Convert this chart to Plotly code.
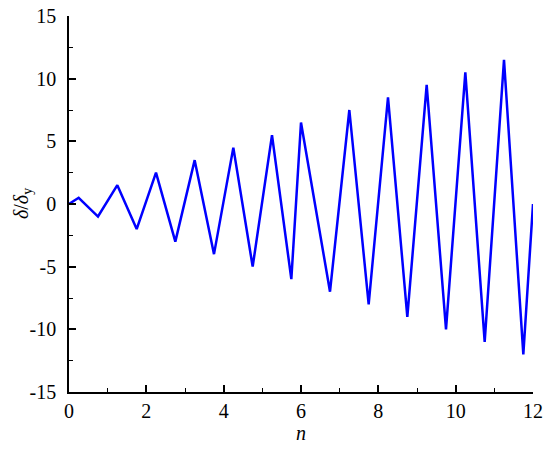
import plotly.graph_objects as go

# loading protocol: cycle index n vs normalised displacement
n_vals = [0, 0.25, 0.75, 1.25, 1.75, 2.25, 2.75, 3.25, 3.75, 4.25, 4.75,
          5.25, 5.75, 6.0, 6.75, 7.25, 7.75, 8.25, 8.75, 9.25, 9.75,
          10.25, 10.75, 11.25, 11.75, 12]
disp_ratio = [0, 0.5, -1, 1.5, -2, 2.5, -3, 3.5, -4, 4.5, -5,
              5.5, -6, 6.5, -7, 7.5, -8, 8.5, -9, 9.5, -10,
              10.5, -11, 11.5, -12, 0]

x_ticks = [0, 2, 4, 6, 8, 10, 12]
y_ticks = [-15, -10, -5, 0, 5, 10, 15]
y_labels = ["-15", "-10", "-5", "0", "5", "10", "15"]

FONT = "Liberation Serif"

fig = go.Figure()
fig.add_trace(go.Scatter(
    x=n_vals, y=disp_ratio, mode="lines",
    line=dict(color="#0000FF", width=2.5),
    showlegend=False, cliponaxis=False
))

axis_common = dict(
    showline=True, linecolor="black", linewidth=1.5, mirror=False,
    showgrid=False, zeroline=False, automargin=False,
    ticks="inside", ticklen=7, tickwidth=1.5, tickcolor="black",
    tickfont=dict(family=FONT, size=20, color="black"),
    ticklabeloverflow="allow",
)

fig.update_xaxes(
    range=[0, 12], tickvals=x_ticks, ticklabelstandoff=0,
    minor=dict(dtick=1, ticks="inside", ticklen=4, tickwidth=1.2, tickcolor="black"),
    title=dict(text="<i>n</i>", font=dict(family=FONT, size=20, color="black"), standoff=0),
    **axis_common
)
fig.update_yaxes(
    range=[-15, 15], tickvals=y_ticks, ticktext=y_labels, ticklabelstandoff=7,
    minor=dict(dtick=2.5, ticks="inside", ticklen=4, tickwidth=1.2, tickcolor="black"),
    **axis_common
)

# y title placed by hand so it sits where the reference has it
fig.add_annotation(
    text="<i>δ</i>/<i>δ</i><sub>y</sub>", xref="paper", yref="paper",
    x=0, y=0.5, xshift=-47, textangle=-90, showarrow=False,
    xanchor="center", yanchor="middle",
    font=dict(family=FONT, size=20, color="black"),
)

fig.update_layout(
    width=550, height=451,
    margin=dict(l=69, r=17, t=16, b=59),
    plot_bgcolor="white", paper_bgcolor="white",
    font=dict(family=FONT, color="black"),
)

# drop the default body margin so the figure sits at the page corner
fig.write_html("out.html", config={"displayModeBar": False},
               post_script="document.body.style.margin='0';")
